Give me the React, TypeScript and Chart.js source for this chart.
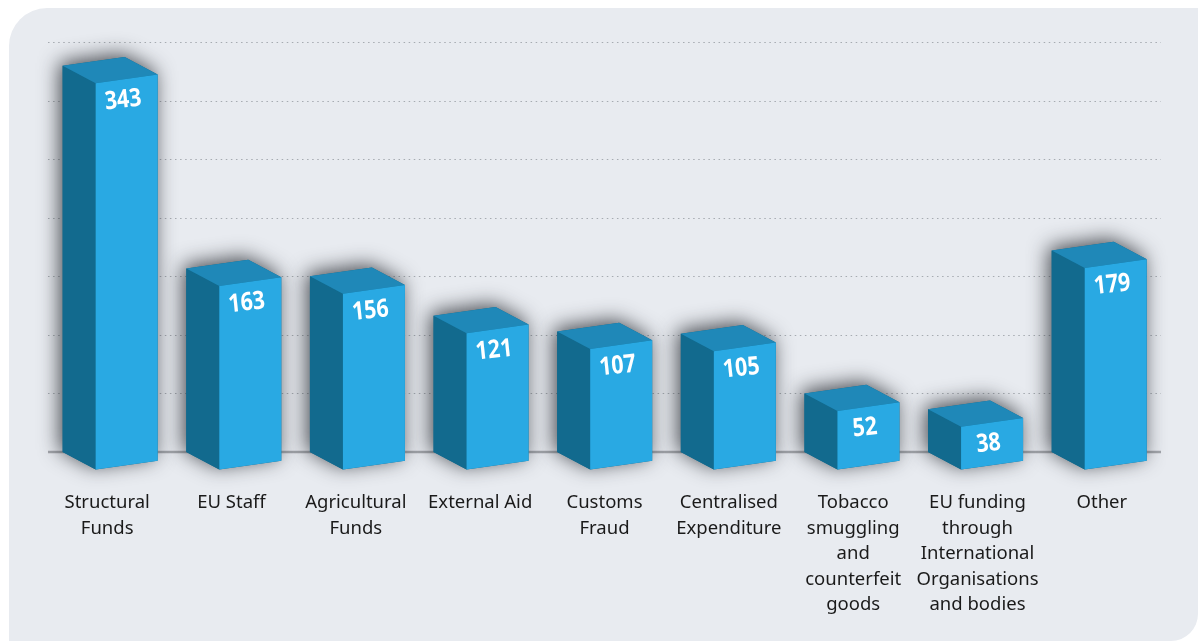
import React, { useEffect, useRef } from "react";
import { Chart, registerables } from "chart.js";

Chart.register(...registerables);

const categories: (string | string[])[] = [
  ["Structural", "Funds"],
  "EU Staff",
  ["Agricultural", "Funds"],
  "External Aid",
  ["Customs", "Fraud"],
  ["Centralised", "Expenditure"],
  ["Tobacco", "smuggling", "and", "counterfeit", "goods"],
  ["EU funding", "through", "International", "Organisations", "and bodies"],
  "Other",
];
const values = [343, 163, 156, 121, 107, 105, 52, 38, 179];

const W = 1198;
const H = 641;

const bars3d = {
  id: "bars3d",
  beforeDraw(chart: any) {
    const { ctx } = chart;
    ctx.save();
    ctx.fillStyle = "#E8EBF0";
    ctx.beginPath();
    ctx.roundRect(9, 8, W - 9, H - 8, [38, 0, 27, 0]);
    ctx.fill();
    ctx.restore();
  },
  beforeDatasetsDraw(chart: any) {
    const { ctx, scales } = chart;
    const y = scales.y;
    const x0 = 48;
    const x1 = 1161;
    ctx.save();
    ctx.strokeStyle = "#A6ABB1";
    ctx.lineWidth = 1.2;
    ctx.setLineDash([1.5, 3.58]);
    y.ticks.forEach((t: any) => {
      if (t.value === 0) return;
      const py = Math.round(y.getPixelForValue(t.value)) + 0.5;
      ctx.beginPath();
      ctx.moveTo(x0, py);
      ctx.lineTo(x1, py);
      ctx.stroke();
    });
    ctx.setLineDash([]);
    ctx.strokeStyle = "#A2A5AA";
    ctx.lineWidth = 2.5;
    const by = y.getPixelForValue(0);
    ctx.beginPath();
    ctx.moveTo(x0, by);
    ctx.lineTo(x1, by);
    ctx.stroke();
    ctx.restore();
  },
  afterDatasetsDraw(chart: any) {
    const { ctx } = chart;
    const meta = chart.getDatasetMeta(0);
    meta.data.forEach((el: any, i: number) => {
      const half = el.width / 2;
      const depthY = 17.5;
      const rise = 8.7;
      const l = el.x - half;
      const r = el.x + half;
      const m = l + 33;
      const top = el.y;
      const base = el.base;
      const backTop: [number, number] = [r - 33, top - rise];

      // soft shadow behind the block
      ctx.save();
      ctx.shadowColor = "rgba(30,34,40,0.8)";
      ctx.shadowBlur = 20;
      ctx.shadowOffsetX = -3;
      ctx.shadowOffsetY = -3;
      ctx.fillStyle = "#126A8E";
      ctx.beginPath();
      ctx.moveTo(l, top);
      ctx.lineTo(backTop[0], backTop[1]);
      ctx.lineTo(r, top + depthY - rise);
      ctx.lineTo(r, base + depthY - rise);
      ctx.lineTo(m, base + depthY);
      ctx.lineTo(l, base);
      ctx.closePath();
      ctx.fill();
      ctx.restore();

      // left face
      ctx.fillStyle = "#126A8E";
      ctx.beginPath();
      ctx.moveTo(l, top);
      ctx.lineTo(m, top + depthY);
      ctx.lineTo(m, base + depthY);
      ctx.lineTo(l, base);
      ctx.closePath();
      ctx.fill();

      // top face
      ctx.fillStyle = "#1F88B8";
      ctx.beginPath();
      ctx.moveTo(l, top);
      ctx.lineTo(backTop[0], backTop[1]);
      ctx.lineTo(r, top + depthY - rise);
      ctx.lineTo(m, top + depthY);
      ctx.closePath();
      ctx.fill();

      // front face
      ctx.fillStyle = "#29A9E3";
      ctx.beginPath();
      ctx.moveTo(m, top + depthY);
      ctx.lineTo(r, top + depthY - rise);
      ctx.lineTo(r, base + depthY - rise);
      ctx.lineTo(m, base + depthY);
      ctx.closePath();
      ctx.fill();

      // value label
      ctx.save();
      ctx.translate((m + r) / 2 - 3.5, top + depthY - rise / 2 + 21.5);
      ctx.rotate((-6 * Math.PI) / 180);
      ctx.scale(0.93, 1.1);
      ctx.fillStyle = "#FFFFFF";
      ctx.font = "bold 23px 'Open Sans'";
      ctx.textAlign = "center";
      ctx.textBaseline = "middle";
      ctx.fillText(String(values[i]), 0, 0);
      ctx.restore();
    });
  },
};

export default function App() {
  const ref = useRef<HTMLCanvasElement>(null);
  useEffect(() => {
    document.body.style.margin = "0";
    document.body.style.background = "#FFFFFF";
    const chart = new Chart(ref.current!, {
      type: "bar",
      data: {
        labels: categories as any,
        datasets: [
          {
            data: values.map((v, i) => ({ x: i, y: v })) as any,
            xAxisID: "bx",
            yAxisID: "y",
            backgroundColor: "rgba(0,0,0,0)",
            barThickness: 95,
          },
        ],
      },
      options: {
        responsive: false,
        animation: false,
        layout: { padding: { left: 45, right: 34, top: 42, bottom: 0 } },
        plugins: { legend: { display: false }, tooltip: { enabled: false } },
        scales: {
          x: {
            type: "category",
            labels: categories as any,
            position: "bottom",
            grid: { display: false },
            border: { display: false },
            ticks: {
              maxRotation: 0,
              minRotation: 0,
              autoSkip: false,
              padding: 30,
              color: "#1A1A1A",
              font: { family: "'Noto Sans'", size: 18.5, lineHeight: 1.38 },
            },
            afterFit(scale: any) {
              scale.height = H - 452;
              scale.paddingLeft = 0;
              scale.paddingRight = 0;
            },
          },
          bx: {
            type: "linear",
            axis: "x",
            display: false,
            offset: false,
            min: -0.527,
            max: 8.524,
          },
          y: {
            min: 0,
            max: 364,
            grid: { display: false },
            border: { display: false },
            ticks: { display: false, stepSize: 52 },
            afterFit(scale: any) {
              scale.width = 0;
            },
          },
        },
      } as any,
      plugins: [bars3d],
    });
    return () => chart.destroy();
  }, []);
  return (
    <canvas
      ref={ref}
      width={W}
      height={H}
      style={{ display: "block", width: W, height: H }}
    />
  );
}
